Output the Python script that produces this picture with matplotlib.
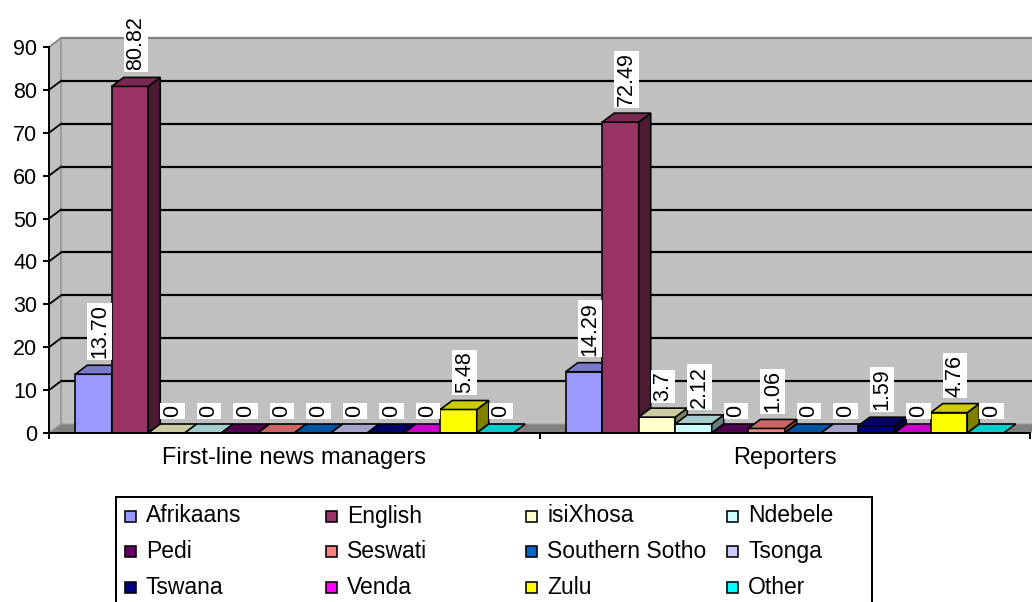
import matplotlib
matplotlib.use("Agg")
import matplotlib.pyplot as plt
from matplotlib.patches import Rectangle, Polygon
from matplotlib.colors import to_rgb
import numpy as np

# ---------------- data ----------------
categories = ["First-line news managers", "Reporters"]
languages = ["Afrikaans", "English", "isiXhosa", "Ndebele", "Pedi", "Seswati",
             "Southern Sotho", "Tsonga", "Tswana", "Venda", "Zulu", "Other"]
colors = ["#9999FF", "#993366", "#FFFFCC", "#CCFFFF", "#660066", "#FF8080",
          "#0066CC", "#CCCCFF", "#000080", "#FF00FF", "#FFFF00", "#00FFFF"]
managers = [13.70, 80.82, 0, 0, 0, 0, 0, 0, 0, 0, 5.48, 0]
reporters = [14.29, 72.49, 3.7, 2.12, 0, 1.06, 0, 0, 1.59, 0, 4.76, 0]
managers_labels = ["13.70", "80.82", "0", "0", "0", "0", "0", "0", "0", "0", "5.48", "0"]
reporters_labels = ["14.29", "72.49", "3.7", "2.12", "0", "1.06", "0", "0", "1.59", "0", "4.76", "0"]
yticks = [0, 10, 20, 30, 40, 50, 60, 70, 80, 90]

series_values = [managers, reporters]
series_labels = [managers_labels, reporters_labels]

# ---------------- style ----------------
FONT = "Liberation Sans"
FS = 15.5
FS_CAT = 17
FS_LEG = 16.5
W, H, DPI = 1032, 602, 100
plt.rcParams["font.family"] = [FONT, "DejaVu Sans"]

fig = plt.figure(figsize=(W / DPI, H / DPI), dpi=DPI)
ax_left, ax_right, ax_top, ax_bot = 49, 1030, 47, 433
ax = fig.add_axes([ax_left / W, (H - ax_bot) / H, (ax_right - ax_left) / W, (ax_bot - ax_top) / H])
ax.set_xlim(0, 2)
ax.set_ylim(0, 90)
ax.patch.set_visible(False)

# depth offset (pixels) converted to data units
DEPTH_PX = (12, 9)
ddx = DEPTH_PX[0] * 2 / (ax_right - ax_left)
ddy = DEPTH_PX[1] * 90 / (ax_bot - ax_top)

wall_c = "#C0C0C0"
edge_gray = "#808080"
px = 72 / DPI  # points per pixel

# back wall
ax.add_patch(Polygon([(ddx, ddy), (2 + ddx, ddy), (2 + ddx, 90 + ddy), (ddx, 90 + ddy)],
                     closed=True, fc=wall_c, ec="none", zorder=0, clip_on=False))
# side wall
ax.add_patch(Polygon([(0, 0), (ddx, ddy), (ddx, 90 + ddy), (0, 90)],
                     closed=True, fc=wall_c, ec=edge_gray, lw=1.2 * px, zorder=0.5, clip_on=False))
# top edges of walls
ax.plot([ddx, 2 + ddx], [90 + ddy, 90 + ddy], color=edge_gray, lw=2.2 * px, zorder=1, clip_on=False)
ax.plot([0, ddx], [90, 90 + ddy], color=edge_gray, lw=1.5 * px, zorder=1, clip_on=False)
ax.plot([ddx, ddx], [ddy, 90 + ddy], color="#A0A0A0", lw=1.2 * px, zorder=1, clip_on=False)

# gridlines
for t in yticks[1:-1]:
    ax.plot([ddx, 2 + ddx], [t + ddy, t + ddy], color="black", lw=2.2 * px, zorder=1, clip_on=False,
            solid_capstyle="butt")
    ax.plot([0, ddx], [t, t + ddy], color="black", lw=1.8 * px, zorder=1, clip_on=False)

# floor
ax.add_patch(Polygon([(0, 0), (2, 0), (2 + ddx, ddy), (ddx, ddy)],
                     closed=True, fc=edge_gray, ec="#A0A0A0", lw=1 * px, zorder=2, clip_on=False))


def shade(c, f):
    r, g, b = to_rgb(c)
    return (r * f, g * f, b * f)


n = len(languages)
bw = 36.5 / ((ax_right - ax_left) / 2)
edge_lw = 1.6 * px
for ci, (vals, labs) in enumerate(zip(series_values, series_labels)):
    start = ci + (1 - n * bw) / 2
    for i, (v, lab) in enumerate(zip(vals, labs)):
        x0 = start + i * bw
        x1 = x0 + bw
        c = colors[i]
        z = 3 + i * 0.01
        # front face
        if v > 0:
            ax.add_patch(Rectangle((x0, 0), bw, v, fc=c, ec="black", lw=edge_lw, zorder=z,
                                   clip_on=False))
            # side face
            ax.add_patch(Polygon([(x1, 0), (x1 + ddx, ddy), (x1 + ddx, v + ddy), (x1, v)],
                                 closed=True, fc=shade(c, 0.5), ec="black", lw=edge_lw, zorder=z,
                                 clip_on=False))
        # top face
        ax.add_patch(Polygon([(x0, v), (x1, v), (x1 + ddx, v + ddy), (x0 + ddx, v + ddy)],
                             closed=True, fc=shade(c, 0.8), ec="black", lw=edge_lw, zorder=z,
                             clip_on=False))
        # value label
        ax.annotate(lab, xy=(x0 + bw / 2 + ddx / 2, v + ddy), xytext=(0, 7),
                    textcoords="offset pixels", rotation=90, ha="center", va="bottom",
                    fontsize=FS, color="black", zorder=10, annotation_clip=False,
                    bbox=dict(boxstyle="square,pad=0.08", fc="white", ec="none"))

# axes styling
for s in ["top", "right"]:
    ax.spines[s].set_visible(False)
ax.spines["left"].set_linewidth(2 * px)
ax.spines["bottom"].set_linewidth(2 * px)
ax.spines["left"].set_zorder(6)
ax.spines["bottom"].set_zorder(6)
ax.set_yticks(yticks)
ax.set_yticklabels([str(t) for t in yticks], fontsize=FS)
ax.tick_params(axis="y", length=6 * px, width=2 * px, pad=4, direction="out")
ax.set_xticks([0, 1, 2])
ax.set_xticklabels([])
ax.set_xticks([0.5, 1.5], minor=True)
ax.set_xticklabels(categories, minor=True, fontsize=FS_CAT)
ax.tick_params(axis="x", which="major", length=6 * px, width=2 * px, direction="out")
ax.tick_params(axis="x", which="minor", length=0, pad=10)

# legend (manual, equal-width columns like the original)
lg_left, lg_top, lg_right = 116, 497, 872
fig.add_artist(Rectangle((lg_left / W, -0.1), (lg_right - lg_left) / W, (H - lg_top) / H + 0.1,
                         transform=fig.transFigure, fc="white", ec="black", lw=2 * px,
                         clip_on=False, zorder=1))
col_x0, col_step = 125, 200.7
row_y0, row_step = 516, 35.5
msz = 11
for i, (name, c) in enumerate(zip(languages, colors)):
    col, row = i % 4, i // 4
    mx = col_x0 + col * col_step
    my = row_y0 + row * row_step
    fig.add_artist(Rectangle((mx / W, (H - my - msz / 2) / H), msz / W, msz / H,
                             transform=fig.transFigure, fc=c, ec="black", lw=1.6 * px, zorder=2))
    fig.text((mx + 21) / W, (H - my) / H, name, fontsize=FS_LEG, ha="left", va="center",
             zorder=3)

fig.savefig("out.png", dpi=DPI)
